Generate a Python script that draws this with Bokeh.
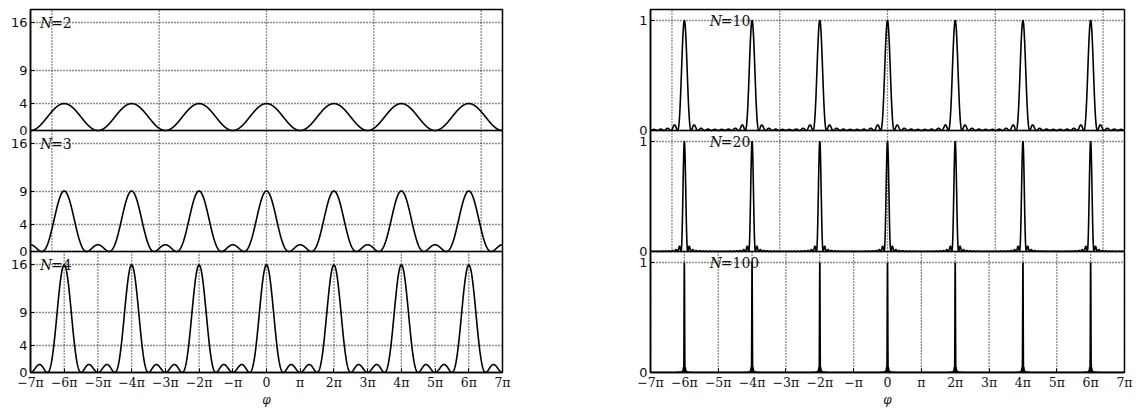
import numpy as np
from bokeh.plotting import figure
from bokeh.models import Range1d, FixedTicker, CustomJSTickFormatter, Label, Span
from bokeh.layouts import row
from bokeh.embed import file_html
from bokeh.resources import INLINE

# ---- data ----
N_left = [2, 3, 4]
N_right = [10, 20, 100]
left_yticks = [0, 4, 9, 16]
right_yticks = [0, 1]
left_ymax = 18.0
right_ymax = 1.1
rad_gridticks = [-20, -10, 0, 10, 20]
pi_multiples = list(range(-7, 8))
x_tick_labels = ["\u22127\u03c0", "\u22126\u03c0", "\u22125\u03c0", "\u22124\u03c0", "\u22123\u03c0",
                 "\u22122\u03c0", "\u2212\u03c0", "0", "\u03c0", "2\u03c0", "3\u03c0", "4\u03c0",
                 "5\u03c0", "6\u03c0", "7\u03c0"]
x_label = "\u03c6"

phi = np.linspace(-7 * np.pi, 7 * np.pi, 14001)


def grating(N, x):
    s = np.sin(x / 2.0)
    num = np.sin(N * x / 2.0)
    out = np.empty_like(x)
    small = np.abs(s) < 1e-9
    out[~small] = (num[~small] / s[~small]) ** 2
    out[small] = N * N
    return out


XMIN, XMAX = -7 * np.pi, 7 * np.pi
NP = 3                 # stacked panels per column
FRAME_H = 363          # 3 x 121
GRID_DASH = "1 2"
GRID_COLOR = "#1a1a1a"
GRID_W = 1.3
INK = "#111111"


def column_plot(Ns, side):
    if side == "left":
        ymax, yt, bl, br, fw, lab_x, lab_dy = left_ymax, left_yticks, 30, 120, 472, -6.72 * np.pi, 5
    else:
        ymax, yt, bl, br, fw, lab_x, lab_dy = right_ymax, right_yticks, 28, 12, 474, -5.25 * np.pi, 3
    p = figure(frame_width=fw, frame_height=FRAME_H,
               x_range=Range1d(XMIN, XMAX), y_range=Range1d(0, NP),
               toolbar_location=None, output_backend="svg",
               min_border_left=bl, min_border_right=br,
               min_border_top=9, min_border_bottom=30)
    p.background_fill_color = "white"
    p.border_fill_color = "white"
    p.outline_line_color = "black"
    p.outline_line_width = 1.5

    # y axis: each panel has its own 0..ymax scale stacked in the column
    tvals, tlabels = [], []
    for i in range(NP):
        off = NP - 1 - i
        for v in yt:
            tvals.append(off + v / ymax)
            tlabels.append(str(v))
    p.yaxis.ticker = FixedTicker(ticks=tvals)
    p.yaxis.formatter = CustomJSTickFormatter(
        args=dict(tvals=tvals, tlabels=tlabels),
        code="for (let j = 0; j < tvals.length; j++) { if (Math.abs(tick - tvals[j]) < 1e-6) return tlabels[j]; } return '';")
    p.yaxis.axis_line_color = "black"
    p.yaxis.axis_line_width = 1.5
    p.yaxis.major_tick_in = 4
    p.yaxis.major_tick_out = 0
    p.yaxis.minor_tick_line_color = None
    p.yaxis.major_label_text_font = "DejaVu Sans"
    p.yaxis.major_label_text_font_size = "13px"
    p.yaxis.major_label_text_color = INK
    p.yaxis.major_label_standoff = 3
    p.ygrid.grid_line_color = GRID_COLOR
    p.ygrid.grid_line_dash = GRID_DASH
    p.ygrid.grid_line_width = GRID_W

    # x axis (bottom panel, multiples of pi)
    pi_ticks = [k * np.pi for k in pi_multiples]
    p.xaxis.ticker = FixedTicker(ticks=pi_ticks)
    p.xaxis.formatter = CustomJSTickFormatter(
        args=dict(xlabels=x_tick_labels),
        code="return xlabels[Math.round(tick/Math.PI)+7];")
    p.xaxis.axis_line_color = "black"
    p.xaxis.axis_line_width = 1.5
    p.xaxis.major_tick_in = 4
    p.xaxis.major_tick_out = 0
    p.xaxis.minor_tick_line_color = None
    p.xaxis.major_label_text_font = "DejaVu Serif"
    p.xaxis.major_label_text_font_size = "12.5px"
    p.xaxis.major_label_text_color = INK
    p.xaxis.major_label_standoff = 2
    p.xaxis.axis_label = x_label
    p.xaxis.axis_label_text_font = "DejaVu Serif"
    p.xaxis.axis_label_text_font_style = "italic"
    p.xaxis.axis_label_text_font_size = "12px"
    p.xaxis.axis_label_text_color = INK
    p.xaxis.axis_label_standoff = 0
    p.xgrid.visible = False

    # vertical grid lines: bottom panel at multiples of pi, upper panels at default radian ticks
    p.segment(x0=pi_ticks, x1=pi_ticks, y0=[0] * len(pi_ticks), y1=[1] * len(pi_ticks),
              line_color=GRID_COLOR, line_dash=GRID_DASH, line_width=GRID_W)
    p.segment(x0=rad_gridticks, x1=rad_gridticks, y0=[1] * len(rad_gridticks),
              y1=[NP] * len(rad_gridticks),
              line_color=GRID_COLOR, line_dash=GRID_DASH, line_width=GRID_W)

    # panel separators
    for k in range(1, NP):
        p.add_layout(Span(location=k, dimension="width", line_color="black", line_width=1.5))

    ppu = FRAME_H / NP
    for i, N in enumerate(Ns):
        off = NP - 1 - i
        norm = 1.0 if side == "left" else float(N * N)
        y = off + grating(N, phi) / norm / ymax
        p.line(phi, y, line_color="black", line_width=1.6)
        ly = off + 1 - lab_dy / ppu
        p.add_layout(Label(x=lab_x, y=ly, text="N", text_font="DejaVu Serif",
                           text_font_style="italic", text_font_size="14px",
                           text_baseline="top", text_color=INK))
        p.add_layout(Label(x=lab_x, y=ly, x_offset=11, text="=" + str(N),
                           text_font="DejaVu Serif", text_font_size="14px",
                           text_baseline="top", text_color=INK))
    return p


layout = row(column_plot(N_left, "left"), column_plot(N_right, "right"))

open("out.html", "w").write(file_html(layout, INLINE))
